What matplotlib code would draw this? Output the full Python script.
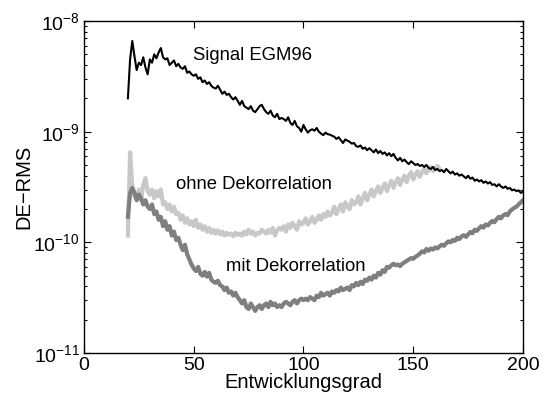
import numpy as np
import matplotlib
matplotlib.use("Agg")
import matplotlib.pyplot as plt
from matplotlib.ticker import LogLocator, FixedLocator, NullFormatter

plt.rcParams['font.family'] = ['Liberation Sans', 'DejaVu Sans']
plt.rcParams['mathtext.fontset'] = 'custom'
plt.rcParams['mathtext.rm'] = 'Liberation Sans'
plt.rcParams['mathtext.it'] = 'Liberation Sans'

# degrees
deg_signal = np.arange(20, 201)
deg_ohne = np.arange(20, 163)
deg_mit = np.arange(20, 201)

# Signal EGM96 (units of 1e-10)
signal = [
    20, 45, 66, 48, 36, 42, 40, 47, 38, 33, 45, 42, 50, 46, 52, 57, 47, 45, 46, 40,
    42, 44, 39, 41, 38, 37, 39, 34, 35, 33, 32, 33, 30, 31, 28, 29, 27, 28, 26, 25,
    24.5, 26, 24, 22, 23, 21.5, 22, 20.5, 19.5, 20.5, 19, 17.5, 19, 17, 16.5, 16, 17, 15.5, 15, 16,
    17, 17.5, 16, 15, 14.5, 15.5, 14, 13.5, 14.5, 13, 13.3, 13, 12.5, 13.5, 12.0, 11.5, 12.5, 11.2, 10.8, 10.0,
    11.5, 10.5, 9.8, 10.3, 10.5, 10.2, 10.8, 10.0, 9.6, 9.3, 9.8, 9.5, 9.4, 9.2, 9.0, 8.6, 8.9, 8.4, 7.9, 8.5,
    8.3, 8.1, 7.8, 7.9, 7.4, 7.3, 7.5, 7.0, 7.2, 6.8, 7.1, 6.8, 6.5, 6.9, 6.4, 6.7, 6.3, 6.5, 6.1, 6.4,
    6.0, 6.3, 5.8, 5.5, 5.8, 5.4, 5.6, 5.3, 5.1, 5.4, 5.2, 5.0, 5.1, 4.9, 5.0, 4.8, 5.0, 4.7, 4.6, 4.8,
    4.5, 4.6, 4.4, 4.5, 4.3, 4.6, 4.4, 4.2, 4.35, 4.1, 4.2, 4.0, 4.1, 3.95, 3.8, 4.0, 3.75, 3.85, 3.6, 3.7,
    3.55, 3.65, 3.45, 3.55, 3.4, 3.5, 3.3, 3.35, 3.2, 3.35, 3.2, 3.1, 3.2, 3.05, 3.1, 2.95, 3.0, 2.9, 2.95, 2.8,
    2.85,
]

# ohne Dekorrelation (units of 1e-10)
ohne = [
    1.15, 6.5, 3.2, 2.6, 2.5, 3.0, 2.4, 3.3, 3.8, 2.9, 2.7, 3.0, 2.5, 2.9, 2.6, 3.0, 2.2, 2.3, 2.0, 2.2,
    1.9, 2.1, 1.8, 1.85, 1.6, 1.75, 1.5, 1.65, 1.45, 1.55, 1.4, 1.6, 1.35, 1.45, 1.3, 1.4, 1.25, 1.35, 1.22, 1.3,
    1.2, 1.28, 1.18, 1.25, 1.15, 1.22, 1.17, 1.2, 1.14, 1.22, 1.16, 1.2, 1.15, 1.25, 1.18, 1.3, 1.2, 1.25, 1.15, 1.22,
    1.2, 1.3, 1.25, 1.2, 1.3, 1.22, 1.35, 1.15, 1.28, 1.35, 1.3, 1.4, 1.25, 1.45, 1.35, 1.5, 1.4, 1.3, 1.55, 1.45,
    1.5, 1.65, 1.45, 1.55, 1.7, 1.5, 1.6, 1.75, 1.6, 1.8, 1.7, 1.9, 1.75, 1.85, 2.1, 1.8, 2.0, 2.2, 1.9, 2.3,
    2.1, 2.0, 2.4, 2.2, 2.3, 2.6, 2.2, 2.5, 2.8, 2.4, 2.7, 3.0, 2.6, 2.9, 3.2, 2.8, 3.1, 3.4, 2.9, 3.3,
    3.6, 3.1, 3.5, 3.8, 3.3, 3.7, 4.0, 3.5, 4.0, 4.3, 3.7, 4.1, 4.4, 3.9, 4.3, 4.6, 4.2, 4.5, 4.8, 4.4,
    4.7, 4.9, 4.6,
]

# mit Dekorrelation (units of 1e-11)
mit = [
    17, 28, 31, 28, 24, 27, 25, 22, 24, 21, 20, 22, 18, 19, 16, 17, 14, 15.5, 13, 14,
    11.5, 12.5, 10.5, 11, 9.5, 8.5, 9.5, 7.8, 7.0, 6.3, 5.8, 5.5, 6.0, 5.2, 5.0, 5.4, 4.9, 5.3, 4.6, 4.4,
    4.3, 4.5, 4.1, 4.0, 3.7, 3.9, 3.5, 3.6, 3.3, 3.5, 3.2, 3.0, 2.8, 3.0, 2.6, 2.5, 2.8, 2.6, 2.4, 2.6,
    2.7, 2.5, 2.7, 2.8, 2.6, 2.9, 2.7, 2.8, 2.6, 2.7, 2.6, 2.8, 2.9, 2.8, 2.7, 2.9, 3.0, 2.8, 3.0, 3.1,
    3.0, 3.1, 3.0, 3.2, 3.1, 3.0, 3.3, 3.2, 3.5, 3.3, 3.4, 3.5, 3.3, 3.6, 3.5, 3.7, 3.6, 3.9, 3.7, 3.8,
    3.9, 3.7, 4.1, 4.0, 4.3, 4.1, 4.4, 4.2, 4.6, 4.5, 4.8, 4.6, 5.0, 4.8, 5.3, 5.1, 5.6, 5.4, 6.0, 5.9,
    6.2, 6.4, 6.2, 6.3, 6.1, 6.4, 6.6, 6.8, 7.0, 7.2, 7.1, 7.4, 7.6, 7.9, 8.3, 8.1, 8.7, 8.4, 8.8, 8.6,
    9.0, 8.8, 9.2, 9.5, 9.3, 9.8, 10.2, 10.0, 10.5, 10.3, 11.0, 10.7, 11.3, 11.6, 11.2, 11.8, 12.4, 12.1, 13.0, 12.7,
    13.4, 14.0, 13.6, 14.5, 14.2, 15.0, 15.6, 15.2, 16.2, 17.0, 16.5, 17.5, 18.0, 17.6, 19.0, 19.8, 20.5, 21.0, 22.0, 23.0,
    24.0,
]

labels = ["Signal EGM96", "ohne Dekorrelation", "mit Dekorrelation"]
xticks = [0, 50, 100, 150, 200]
yticks = [1e-11, 1e-10, 1e-9, 1e-8]

fig = plt.figure(figsize=(5.44, 3.98), dpi=100)
ax = fig.add_axes([0.1544, 0.1131, 0.8070, 0.8341])

ax.semilogy(deg_ohne, np.array(ohne) * 1e-10, color='#c8c8c8', lw=3.0, solid_joinstyle='round')
ax.semilogy(deg_mit, np.array(mit) * 1e-11, color='#7f7f7f', lw=3.0, solid_joinstyle='round')
ax.semilogy(deg_signal, np.array(signal) * 1e-10, color='black', lw=1.5)

ax.set_xlim(0, 200)
ax.set_ylim(1e-11, 1e-8)
ax.xaxis.set_major_locator(FixedLocator(xticks))
ax.yaxis.set_major_locator(FixedLocator(yticks))
ax.yaxis.set_minor_locator(LogLocator(base=10, subs=np.arange(2, 10), numticks=20))
ax.yaxis.set_minor_formatter(NullFormatter())

ax.tick_params(which='both', direction='in', top=True, right=True, labelsize=14, width=0.8)
ax.tick_params(which='major', length=5, pad=3)
ax.tick_params(which='minor', length=2.5)
for s in ax.spines.values():
    s.set_linewidth(1.0)

ax.set_xlabel("Entwicklungsgrad", fontsize=14.5, labelpad=-1)
ax.set_ylabel("DE\u2212RMS", fontsize=14.5, labelpad=0)

ax.text(49.7, 4.93e-9, labels[0], fontsize=13.3, va='center', ha='left')
ax.text(41.9, 3.3e-10, labels[1], fontsize=13.3, va='center', ha='left')
ax.text(64.7, 6.04e-11, labels[2], fontsize=13.3, va='center', ha='left')

fig.savefig("out.png", dpi=100)
